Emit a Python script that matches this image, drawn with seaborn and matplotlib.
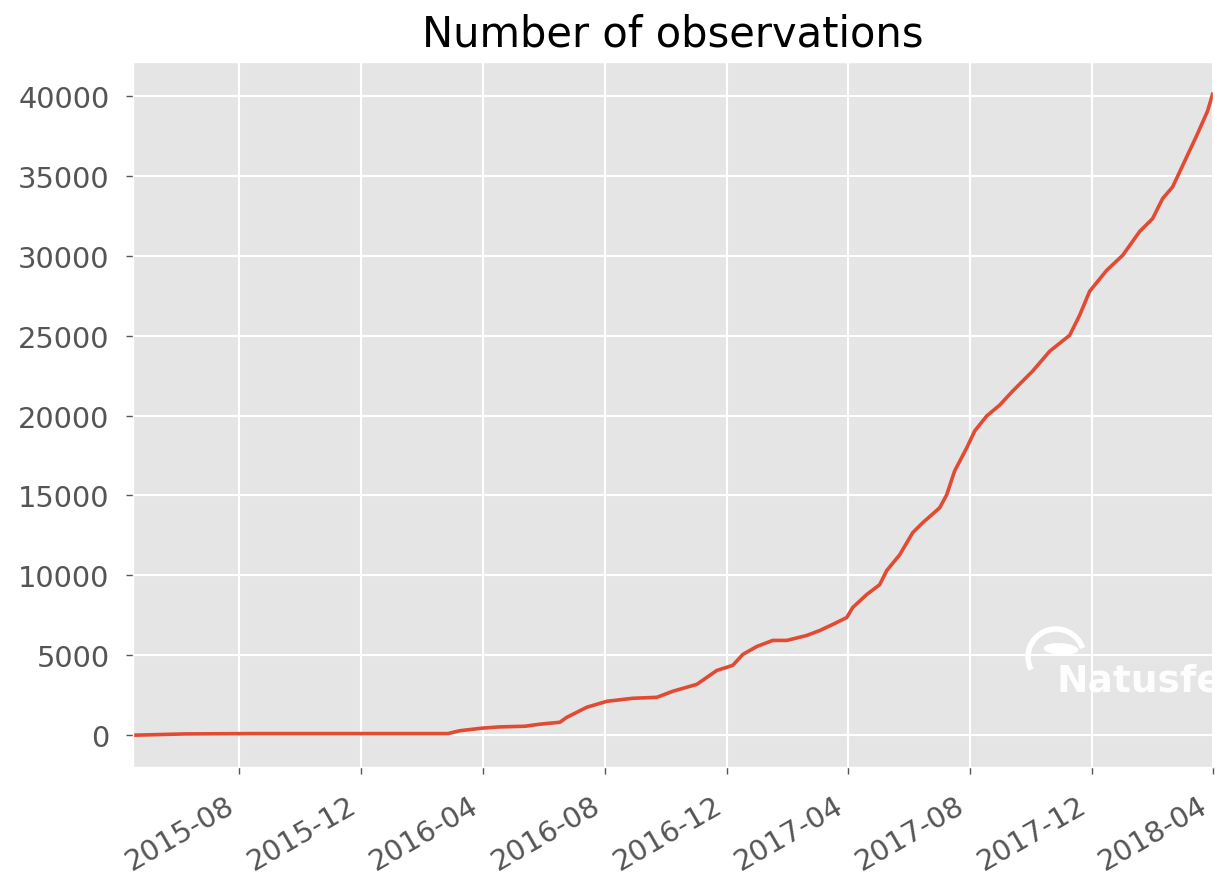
import pandas as pd
import seaborn as sns
import matplotlib.pyplot as plt
import matplotlib.dates as mdates
from matplotlib.patches import Arc, Ellipse

dates = [
    "2015-04-17", "2015-06-08", "2015-08-12", "2016-02-26", "2016-03-09",
    "2016-03-31", "2016-04-18", "2016-05-13", "2016-05-28", "2016-06-17",
    "2016-06-24", "2016-07-14", "2016-08-03", "2016-08-29", "2016-09-22",
    "2016-10-08", "2016-11-01", "2016-11-21", "2016-12-07", "2016-12-17",
    "2016-12-31", "2017-01-16", "2017-01-30", "2017-02-19", "2017-03-04",
    "2017-03-17", "2017-03-31", "2017-04-06", "2017-04-20", "2017-05-03",
    "2017-05-10", "2017-05-23", "2017-06-05", "2017-06-15", "2017-07-02",
    "2017-07-09", "2017-07-17", "2017-07-29", "2017-08-06", "2017-08-18",
    "2017-08-31", "2017-09-13", "2017-10-03", "2017-10-20", "2017-11-09",
    "2017-11-19", "2017-11-29", "2017-12-16", "2018-01-01", "2018-01-18",
    "2018-01-31", "2018-02-10", "2018-02-20", "2018-03-16", "2018-03-27",
    "2018-04-01",
]
counts = [
    0, 80, 100, 100, 280,
    440, 520, 560, 690, 810,
    1120, 1750, 2120, 2310, 2370,
    2750, 3180, 4050, 4370, 5050,
    5550, 5930, 5930, 6240, 6550,
    6930, 7360, 7990, 8800, 9420,
    10300, 11290, 12670, 13290, 14230,
    15040, 16540, 17970, 19030, 19970,
    20650, 21530, 22780, 24020, 25020,
    26270, 27770, 29080, 30020, 31510,
    32320, 33570, 34300, 37500, 39050,
    40100,
]
title = "Number of observations"
watermark = "Natusfera"

df = pd.DataFrame({"date": pd.to_datetime(dates), "count": counts})

plt.style.use("ggplot")
plt.rcParams["font.family"] = ["DejaVu Sans"]

fig, ax = plt.subplots(figsize=(12.15, 8.78), dpi=100)
fig.subplots_adjust(left=0.1095, right=0.998, top=0.928, bottom=0.125)

sns.lineplot(data=df, x="date", y="count", ax=ax, color="#E24A33", linewidth=2.6)

ax.set_xlim(df["date"].min(), df["date"].max())
ax.margins(y=0.05)
ax.set_xlabel("")
ax.set_ylabel("")
ax.set_title(title, fontsize=30, color="black", pad=12)

ax.xaxis.set_major_locator(mdates.MonthLocator(bymonth=[4, 8, 12]))
ax.xaxis.set_major_formatter(mdates.DateFormatter("%Y-%m"))
ax.tick_params(axis="both", labelsize=20.8, colors="#555555", length=5, width=1, pad=12)
for lbl in ax.get_xticklabels():
    lbl.set_rotation(30)
    lbl.set_ha("right")
ax.grid(True, color="white", linewidth=1.5)

# watermark, clipped by the figure edge like in the source image
fig.text(1056 / 1215, 1 - 692 / 878, watermark, color="white", fontsize=27,
         fontweight="bold", alpha=0.95)
arc = Arc((1056 / 1215, 1 - 658 / 878), 56 / 1215, 56 / 878, theta1=25, theta2=215,
          transform=fig.transFigure, color="white", linewidth=4)
fig.add_artist(arc)
leaf = Ellipse((1061 / 1215, 1 - 650 / 878), 34 / 1215, 11 / 878, angle=-5,
               transform=fig.transFigure, color="white")
fig.add_artist(leaf)

fig.savefig("out.png", dpi=100)
